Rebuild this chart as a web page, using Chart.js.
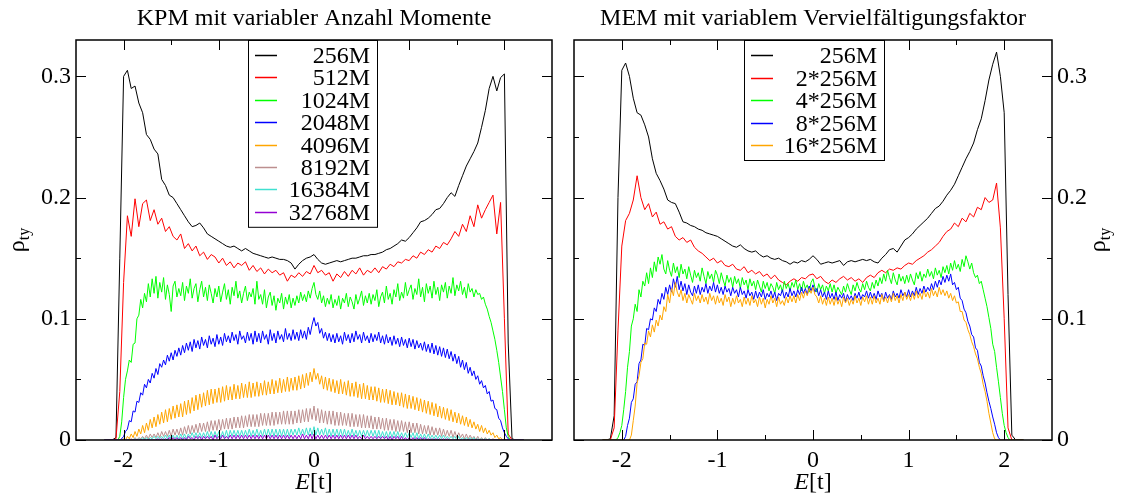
<!DOCTYPE html>
<html>
<head>
    <title>KPM / MEM Zustandsdichte</title>
    <script src="https://cdn.jsdelivr.net/npm/chart.js"></script>
    <style>
        body { margin: 0; background: #fff; }
        #wrap { position: relative; width: 1123px; height: 493px; }
        .panel { position: absolute; top: 0; }
    </style>
</head>
<body>
<div id="wrap">
    <div class="panel" style="left:0"><canvas id="kpmChart" width="560" height="493"></canvas></div>
    <div class="panel" style="left:560px"><canvas id="memChart" width="563" height="493"></canvas></div>
</div>

<script>
    // energy grid E[t] (coarse), used by the smoother curves
    const energies = [
        -2.2,-2.16,-2.12,-2.08,-2.04,-2,-1.96,-1.92,-1.88,-1.84,
        -1.8,-1.76,-1.72,-1.68,-1.64,-1.6,-1.56,-1.52,-1.48,-1.44,
        -1.4,-1.36,-1.32,-1.28,-1.24,-1.2,-1.16,-1.12,-1.08,-1.04,
        -1,-0.96,-0.92,-0.88,-0.84,-0.8,-0.76,-0.72,-0.68,-0.64,
        -0.6,-0.56,-0.52,-0.48,-0.44,-0.4,-0.36,-0.32,-0.28,-0.24,
        -0.2,-0.16,-0.12,-0.08,-0.04,0,0.04,0.08,0.12,0.16,
        0.2,0.24,0.28,0.32,0.36,0.4,0.44,0.48,0.52,0.56,
        0.6,0.64,0.68,0.72,0.76,0.8,0.84,0.88,0.92,0.96,
        1,1.04,1.08,1.12,1.16,1.2,1.24,1.28,1.32,1.36,
        1.4,1.44,1.48,1.52,1.56,1.6,1.64,1.68,1.72,1.76,
        1.8,1.84,1.88,1.92,1.96,2,2.04,2.08,2.12,2.16,2.2
    ];
    // fine grid for the noisy curves
    const energiesFine = [
        -2.2,-2.18,-2.16,-2.14,-2.12,-2.1,-2.08,-2.06,-2.04,-2.02,-2,-1.98,-1.96,-1.94,-1.92,-1.9,-1.88,-1.86,-1.84,-1.82,
        -1.8,-1.78,-1.76,-1.74,-1.72,-1.7,-1.68,-1.66,-1.64,-1.62,-1.6,-1.58,-1.56,-1.54,-1.52,-1.5,-1.48,-1.46,-1.44,-1.42,
        -1.4,-1.38,-1.36,-1.34,-1.32,-1.3,-1.28,-1.26,-1.24,-1.22,-1.2,-1.18,-1.16,-1.14,-1.12,-1.1,-1.08,-1.06,-1.04,-1.02,
        -1,-0.98,-0.96,-0.94,-0.92,-0.9,-0.88,-0.86,-0.84,-0.82,-0.8,-0.78,-0.76,-0.74,-0.72,-0.7,-0.68,-0.66,-0.64,-0.62,
        -0.6,-0.58,-0.56,-0.54,-0.52,-0.5,-0.48,-0.46,-0.44,-0.42,-0.4,-0.38,-0.36,-0.34,-0.32,-0.3,-0.28,-0.26,-0.24,-0.22,
        -0.2,-0.18,-0.16,-0.14,-0.12,-0.1,-0.08,-0.06,-0.04,-0.02,0,0.02,0.04,0.06,0.08,0.1,0.12,0.14,0.16,0.18,
        0.2,0.22,0.24,0.26,0.28,0.3,0.32,0.34,0.36,0.38,0.4,0.42,0.44,0.46,0.48,0.5,0.52,0.54,0.56,0.58,
        0.6,0.62,0.64,0.66,0.68,0.7,0.72,0.74,0.76,0.78,0.8,0.82,0.84,0.86,0.88,0.9,0.92,0.94,0.96,0.98,
        1,1.02,1.04,1.06,1.08,1.1,1.12,1.14,1.16,1.18,1.2,1.22,1.24,1.26,1.28,1.3,1.32,1.34,1.36,1.38,
        1.4,1.42,1.44,1.46,1.48,1.5,1.52,1.54,1.56,1.58,1.6,1.62,1.64,1.66,1.68,1.7,1.72,1.74,1.76,1.78,
        1.8,1.82,1.84,1.86,1.88,1.9,1.92,1.94,1.96,1.98,2,2.02,2.04,2.06,2.08,2.1,2.12,2.14,2.16,2.18,2.2
    ];

    // ---- KPM, variable Anzahl Momente ----
    const kpmLabels = ['256M', '512M', '1024M', '2048M', '4096M', '8192M', '16384M', '32768M'];

    // coarse grid
    const kpm256 = [
        0,0,0,0.002,0.15,0.3,0.305,0.29,0.292,0.278,
        0.27,0.252,0.248,0.24,0.236,0.215,0.21,0.202,0.2,0.195,
        0.19,0.185,0.18,0.176,0.177,0.179,0.175,0.17,0.168,0.166,
        0.164,0.162,0.16,0.159,0.16,0.158,0.156,0.158,0.156,0.154,
        0.153,0.152,0.151,0.15,0.151,0.15,0.149,0.149,0.148,0.146,
        0.141,0.145,0.148,0.15,0.151,0.153,0.149,0.146,0.145,0.146,
        0.147,0.148,0.147,0.148,0.149,0.15,0.15,0.151,0.152,0.152,
        0.153,0.153,0.154,0.155,0.157,0.158,0.16,0.162,0.165,0.164,
        0.167,0.171,0.175,0.18,0.181,0.183,0.186,0.19,0.191,0.195,
        0.2,0.204,0.201,0.21,0.218,0.226,0.232,0.238,0.245,0.258,
        0.272,0.29,0.3,0.288,0.299,0.302,0.08,0.001,0,0,0
    ];
    const kpm512 = [
        0,0,0,0.001,0.04,0.13,0.185,0.168,0.199,0.176,
        0.195,0.198,0.181,0.19,0.178,0.183,0.172,0.176,0.168,0.165,
        0.17,0.158,0.162,0.156,0.16,0.152,0.155,0.149,0.153,0.151,
        0.146,0.15,0.144,0.147,0.142,0.146,0.144,0.147,0.14,0.144,
        0.139,0.142,0.137,0.141,0.138,0.14,0.136,0.138,0.131,0.136,
        0.134,0.138,0.135,0.139,0.137,0.144,0.138,0.14,0.136,0.138,
        0.131,0.137,0.134,0.139,0.135,0.14,0.137,0.142,0.136,0.14,
        0.138,0.142,0.138,0.143,0.141,0.145,0.143,0.147,0.146,0.149,
        0.148,0.152,0.15,0.155,0.153,0.157,0.155,0.16,0.158,0.163,
        0.161,0.166,0.172,0.168,0.178,0.172,0.185,0.176,0.194,0.183,
        0.19,0.196,0.202,0.17,0.196,0.1,0.005,0,0,0,0
    ];
    // fine grid from here on
    const kpm1024 = [
        0,0,0,0,0,0,0,0,0.003,0.015,0.035,0.05,0.057,0.066,0.064,0.079,0.08,0.1,0.103,0.116,
        0.109,0.121,0.114,0.129,0.118,0.133,0.121,0.135,0.117,0.13,0.122,0.134,0.116,0.128,0.12,0.106,0.127,0.131,0.118,0.125,
        0.119,0.13,0.115,0.127,0.121,0.133,0.117,0.125,0.129,0.114,0.124,0.131,0.118,0.126,0.115,0.128,0.121,0.113,0.125,0.118,
        0.127,0.114,0.122,0.129,0.116,0.124,0.112,0.126,0.119,0.131,0.117,0.123,0.113,0.121,0.127,0.115,0.122,0.118,0.125,0.112,
        0.131,0.116,0.12,0.112,0.124,0.109,0.118,0.122,0.111,0.119,0.107,0.117,0.113,0.121,0.108,0.118,0.112,0.12,0.109,0.117,
        0.111,0.119,0.113,0.122,0.115,0.12,0.114,0.123,0.117,0.125,0.13,0.12,0.116,0.123,0.113,0.119,0.11,0.117,0.112,0.12,
        0.109,0.116,0.111,0.119,0.108,0.117,0.113,0.121,0.11,0.118,0.114,0.108,0.12,0.112,0.117,0.123,0.111,0.119,0.113,0.121,
        0.112,0.12,0.115,0.124,0.11,0.118,0.122,0.113,0.127,0.116,0.121,0.112,0.124,0.118,0.129,0.115,0.122,0.117,0.13,0.119,
        0.124,0.128,0.116,0.125,0.12,0.133,0.118,0.126,0.114,0.129,0.121,0.127,0.117,0.131,0.12,0.126,0.115,0.128,0.122,0.13,
        0.117,0.127,0.121,0.134,0.119,0.128,0.123,0.131,0.12,0.126,0.117,0.129,0.122,0.125,0.118,0.124,0.12,0.121,0.116,0.118,
        0.112,0.108,0.102,0.097,0.09,0.083,0.074,0.064,0.052,0.04,0.025,0.01,0.003,0,0,0,0,0,0,0,0
    ];
    const kpm2048 = [
        0,0,0,0,0,0,0,0,0,0.001,0.003,0.007,0.009,0.016,0.015,0.024,0.023,0.032,0.031,0.039,
        0.037,0.046,0.043,0.05,0.047,0.055,0.051,0.059,0.054,0.063,0.06,0.066,0.062,0.07,0.065,0.072,0.066,0.074,0.069,0.076,
        0.07,0.078,0.072,0.08,0.074,0.081,0.073,0.083,0.076,0.082,0.075,0.085,0.078,0.083,0.076,0.086,0.079,0.084,0.077,0.087,
        0.079,0.085,0.078,0.088,0.081,0.086,0.08,0.089,0.082,0.087,0.079,0.09,0.083,0.086,0.08,0.089,0.082,0.088,0.079,0.09,
        0.081,0.088,0.08,0.09,0.083,0.087,0.079,0.091,0.082,0.088,0.08,0.09,0.083,0.087,0.081,0.092,0.083,0.088,0.082,0.091,
        0.083,0.089,0.082,0.091,0.084,0.09,0.083,0.093,0.087,0.095,0.101,0.094,0.097,0.088,0.092,0.084,0.089,0.082,0.088,0.081,
        0.087,0.08,0.088,0.081,0.086,0.079,0.089,0.082,0.087,0.08,0.088,0.081,0.09,0.083,0.087,0.08,0.089,0.082,0.086,0.08,
        0.088,0.081,0.087,0.082,0.089,0.08,0.086,0.079,0.087,0.08,0.085,0.078,0.086,0.079,0.084,0.077,0.085,0.078,0.083,0.076,
        0.084,0.077,0.083,0.075,0.082,0.076,0.08,0.074,0.081,0.073,0.079,0.072,0.08,0.071,0.078,0.07,0.077,0.069,0.076,0.068,
        0.075,0.067,0.073,0.065,0.071,0.063,0.069,0.06,0.066,0.058,0.064,0.055,0.06,0.053,0.057,0.05,0.053,0.046,0.049,0.043,
        0.045,0.038,0.04,0.032,0.033,0.026,0.025,0.018,0.016,0.01,0.006,0.003,0.001,0,0,0,0,0,0,0,0
    ];
    const kpm4096 = [
        0,0,0,0,0,0,0,0,0,0,0.001,0,0.003,0.001,0.005,0.002,0.007,0.003,0.009,0.005,
        0.012,0.006,0.014,0.008,0.017,0.01,0.019,0.011,0.021,0.013,0.023,0.014,0.025,0.015,0.026,0.017,0.028,0.018,0.029,0.019,
        0.03,0.019,0.032,0.021,0.033,0.022,0.035,0.024,0.037,0.025,0.038,0.027,0.039,0.028,0.041,0.029,0.042,0.03,0.042,0.031,
        0.043,0.031,0.044,0.032,0.045,0.033,0.044,0.033,0.046,0.034,0.045,0.034,0.047,0.035,0.046,0.035,0.048,0.035,0.047,0.036,
        0.048,0.036,0.047,0.037,0.049,0.037,0.048,0.038,0.05,0.038,0.049,0.039,0.051,0.039,0.05,0.04,0.052,0.04,0.051,0.041,
        0.052,0.041,0.053,0.042,0.054,0.043,0.055,0.045,0.056,0.048,0.059,0.05,0.055,0.046,0.053,0.042,0.052,0.041,0.051,0.04,
        0.05,0.039,0.049,0.038,0.05,0.038,0.048,0.037,0.049,0.036,0.047,0.036,0.048,0.035,0.046,0.034,0.047,0.034,0.045,0.033,
        0.044,0.033,0.044,0.032,0.043,0.031,0.042,0.031,0.042,0.03,0.041,0.029,0.04,0.029,0.039,0.028,0.039,0.027,0.038,0.026,
        0.037,0.026,0.036,0.025,0.035,0.024,0.034,0.023,0.033,0.022,0.032,0.021,0.031,0.02,0.03,0.019,0.028,0.018,0.027,0.017,
        0.026,0.016,0.025,0.015,0.023,0.014,0.022,0.013,0.02,0.012,0.019,0.011,0.017,0.01,0.015,0.009,0.013,0.007,0.012,0.006,
        0.01,0.005,0.008,0.004,0.006,0.002,0.004,0.001,0.002,0,0.001,0,0,0,0,0,0,0,0,0,0
    ];
    const kpm8192 = [
        0,0,0,0,0,0,0,0,0,0,0,0,0,0,0.001,0,0.002,0,0.002,0.001,
        0.003,0.001,0.004,0.001,0.005,0.002,0.005,0.002,0.006,0.002,0.007,0.003,0.007,0.003,0.008,0.003,0.009,0.004,0.009,0.004,
        0.01,0.004,0.011,0.005,0.012,0.005,0.012,0.006,0.013,0.006,0.014,0.007,0.014,0.007,0.015,0.007,0.016,0.008,0.016,0.008,
        0.017,0.008,0.017,0.009,0.018,0.009,0.018,0.009,0.019,0.01,0.019,0.01,0.02,0.01,0.02,0.011,0.021,0.011,0.021,0.011,
        0.021,0.011,0.022,0.012,0.022,0.012,0.022,0.012,0.023,0.012,0.023,0.013,0.023,0.013,0.024,0.013,0.024,0.013,0.024,0.013,
        0.024,0.014,0.025,0.014,0.025,0.015,0.026,0.015,0.026,0.017,0.028,0.016,0.026,0.014,0.025,0.014,0.024,0.013,0.024,0.013,
        0.024,0.012,0.023,0.012,0.023,0.012,0.022,0.012,0.022,0.011,0.022,0.011,0.021,0.011,0.021,0.01,0.021,0.01,0.02,0.01,
        0.02,0.009,0.019,0.009,0.019,0.009,0.018,0.008,0.018,0.008,0.017,0.008,0.017,0.007,0.016,0.007,0.016,0.007,0.015,0.006,
        0.015,0.006,0.014,0.006,0.014,0.005,0.013,0.005,0.012,0.005,0.012,0.004,0.011,0.004,0.01,0.004,0.01,0.003,0.009,0.003,
        0.008,0.003,0.008,0.002,0.007,0.002,0.006,0.002,0.005,0.001,0.005,0.001,0.004,0.001,0.003,0,0.003,0,0.002,0,
        0.002,0,0.001,0,0.001,0,0,0,0,0,0,0,0,0,0,0,0,0,0,0,0
    ];
    const kpm16384 = [
        0,0,0,0,0,0,0,0,0,0,0,0,0,0,0,0,0.001,0,0.001,0,
        0.002,0,0.002,0,0.002,0.001,0.003,0.001,0.003,0.001,0.003,0.001,0.004,0.001,0.004,0.001,0.004,0.001,0.004,0.001,
        0.005,0.001,0.005,0.001,0.005,0.002,0.006,0.002,0.006,0.002,0.006,0.002,0.006,0.002,0.007,0.002,0.007,0.002,0.007,0.002,
        0.007,0.002,0.007,0.002,0.008,0.002,0.008,0.003,0.008,0.003,0.008,0.003,0.008,0.003,0.008,0.003,0.009,0.003,0.008,0.003,
        0.009,0.003,0.008,0.003,0.009,0.003,0.009,0.003,0.009,0.003,0.009,0.003,0.009,0.003,0.009,0.003,0.009,0.003,0.009,0.004,
        0.009,0.004,0.01,0.004,0.009,0.004,0.01,0.004,0.01,0.004,0.011,0.004,0.01,0.004,0.009,0.004,0.01,0.003,0.009,0.003,
        0.009,0.003,0.009,0.003,0.009,0.003,0.009,0.003,0.008,0.003,0.009,0.003,0.008,0.003,0.008,0.003,0.008,0.003,0.008,0.003,
        0.008,0.003,0.008,0.002,0.008,0.002,0.007,0.002,0.007,0.002,0.007,0.002,0.007,0.002,0.007,0.002,0.006,0.002,0.006,0.002,
        0.006,0.002,0.006,0.001,0.006,0.001,0.005,0.001,0.005,0.001,0.005,0.001,0.004,0.001,0.004,0.001,0.004,0.001,0.004,0.001,
        0.003,0.001,0.003,0.001,0.003,0,0.003,0,0.002,0,0.002,0,0.002,0,0.002,0,0.001,0,0.001,0,
        0.001,0,0.001,0,0,0,0,0,0,0,0,0,0,0,0,0,0,0,0,0,0
    ];
    const kpm32768 = [
        0,0,0,0,0,0,0,0,0,0,0,0,0,0,0,0,0,0,0,0,
        0,0,0,0,0,0,0,0,0.001,0,0.001,0,0.001,0,0.002,0,0.002,0,0.002,0,
        0.002,0,0.002,0,0.003,0.001,0.002,0,0.003,0.001,0.003,0,0.003,0.001,0.003,0.001,0.003,0,0.004,0.001,
        0.003,0.001,0.004,0.001,0.003,0.001,0.004,0.001,0.004,0.001,0.004,0.001,0.004,0.001,0.004,0.001,0.004,0.001,0.004,0.001,
        0.004,0.001,0.004,0.001,0.004,0.001,0.004,0.001,0.004,0.001,0.004,0.001,0.004,0.001,0.004,0.001,0.004,0.001,0.004,0.001,
        0.004,0.001,0.004,0.001,0.005,0.001,0.004,0.001,0.005,0.001,0.005,0.001,0.004,0.001,0.004,0.001,0.004,0.001,0.004,0.001,
        0.004,0.001,0.004,0.001,0.004,0.001,0.004,0.001,0.004,0.001,0.004,0.001,0.004,0.001,0.003,0.001,0.004,0.001,0.003,0.001,
        0.003,0.001,0.003,0.001,0.003,0.001,0.003,0.001,0.003,0,0.003,0,0.003,0.001,0.003,0,0.003,0,0.002,0,
        0.002,0,0.002,0,0.002,0,0.002,0,0.002,0,0.001,0,0.001,0,0.001,0,0.001,0,0.001,0,
        0.001,0,0,0,0,0,0,0,0,0,0,0,0,0,0,0,0,0,0,0,
        0,0,0,0,0,0,0,0,0,0,0,0,0,0,0,0,0,0,0,0,0
    ];

    // ---- MEM, variabler Vervielfaeltigungsfaktor ----
    const memLabels = ['256M', '2*256M', '4*256M', '8*256M', '16*256M'];

    // coarse grid
    const mem1 = [
        0,0,0.001,0.02,0.2,0.305,0.311,0.3,0.282,0.27,
        0.268,0.26,0.25,0.232,0.22,0.214,0.207,0.198,0.196,0.195,
        0.188,0.18,0.179,0.177,0.176,0.174,0.173,0.171,0.17,0.169,
        0.168,0.166,0.164,0.162,0.16,0.159,0.161,0.158,0.156,0.155,
        0.156,0.153,0.151,0.152,0.15,0.149,0.15,0.148,0.147,0.145,
        0.147,0.146,0.148,0.147,0.149,0.152,0.149,0.145,0.146,0.147,
        0.146,0.147,0.148,0.144,0.147,0.148,0.147,0.148,0.149,0.148,
        0.149,0.147,0.146,0.15,0.153,0.157,0.158,0.155,0.16,0.165,
        0.167,0.17,0.174,0.177,0.18,0.183,0.187,0.191,0.193,0.197,
        0.202,0.206,0.211,0.218,0.225,0.232,0.238,0.245,0.256,0.265,
        0.28,0.297,0.31,0.32,0.3,0.27,0.12,0.004,0,0,0
    ];
    const mem2 = [
        0,0,0,0.01,0.09,0.16,0.181,0.187,0.198,0.218,
        0.2,0.19,0.195,0.184,0.188,0.178,0.18,0.174,0.176,0.168,
        0.165,0.167,0.163,0.165,0.159,0.156,0.154,0.151,0.148,0.15,
        0.146,0.148,0.144,0.143,0.145,0.141,0.14,0.143,0.138,0.14,
        0.137,0.139,0.135,0.137,0.133,0.136,0.132,0.13,0.128,0.131,
        0.133,0.131,0.134,0.133,0.136,0.137,0.133,0.135,0.131,0.129,
        0.132,0.13,0.133,0.135,0.132,0.134,0.131,0.133,0.13,0.134,
        0.136,0.134,0.138,0.14,0.138,0.141,0.14,0.142,0.141,0.144,
        0.146,0.145,0.148,0.15,0.152,0.155,0.157,0.16,0.163,0.168,
        0.172,0.174,0.179,0.176,0.183,0.18,0.187,0.184,0.192,0.19,
        0.2,0.196,0.198,0.212,0.175,0.1,0.01,0,0,0,0
    ];
    // fine grid
    const mem4 = [
        0,0,0,0,0,0,0,0,0.002,0.006,0.012,0.025,0.04,0.06,0.073,0.094,0.1,0.112,0.106,0.124,
        0.118,0.131,0.127,0.138,0.129,0.142,0.134,0.147,0.139,0.151,0.145,0.153,0.141,0.137,0.148,0.14,0.135,0.146,0.138,0.143,
        0.134,0.145,0.137,0.141,0.133,0.143,0.136,0.13,0.14,0.134,0.138,0.131,0.142,0.135,0.129,0.139,0.133,0.137,0.13,0.14,
        0.136,0.129,0.138,0.132,0.127,0.136,0.13,0.134,0.126,0.135,0.129,0.133,0.125,0.134,0.128,0.132,0.124,0.133,0.127,0.131,
        0.124,0.132,0.127,0.122,0.131,0.125,0.13,0.123,0.129,0.126,0.121,0.13,0.124,0.128,0.122,0.131,0.125,0.129,0.123,0.13,
        0.126,0.132,0.124,0.129,0.123,0.131,0.125,0.128,0.122,0.13,0.133,0.126,0.122,0.129,0.124,0.128,0.121,0.127,0.123,0.129,
        0.122,0.128,0.121,0.126,0.123,0.12,0.127,0.122,0.129,0.124,0.12,0.128,0.123,0.13,0.125,0.122,0.129,0.124,0.131,0.126,
        0.123,0.13,0.125,0.132,0.127,0.134,0.129,0.137,0.131,0.14,0.134,0.129,0.138,0.132,0.128,0.137,0.131,0.135,0.129,0.136,
        0.13,0.137,0.132,0.128,0.138,0.133,0.139,0.131,0.137,0.134,0.141,0.135,0.139,0.133,0.142,0.136,0.14,0.134,0.143,0.138,
        0.144,0.137,0.146,0.14,0.148,0.141,0.145,0.139,0.149,0.143,0.152,0.147,0.141,0.146,0.138,0.134,0.136,0.129,0.131,0.124,
        0.117,0.11,0.101,0.092,0.079,0.073,0.06,0.048,0.035,0.022,0.012,0.006,0.002,0,0,0,0,0,0,0,0
    ];
    const mem8 = [
        0,0,0,0,0,0,0,0,0,0,0,0,0.003,0.012,0.018,0.031,0.034,0.046,0.048,0.063,
        0.066,0.079,0.078,0.092,0.091,0.1,0.099,0.109,0.106,0.116,0.112,0.121,0.116,0.126,0.12,0.128,0.122,0.133,0.126,0.135,
        0.124,0.131,0.123,0.129,0.12,0.128,0.122,0.119,0.127,0.121,0.128,0.12,0.126,0.122,0.129,0.121,0.127,0.123,0.13,0.122,
        0.128,0.121,0.126,0.12,0.127,0.122,0.125,0.119,0.126,0.121,0.124,0.118,0.126,0.12,0.123,0.117,0.124,0.119,0.122,0.116,
        0.123,0.117,0.122,0.118,0.124,0.116,0.121,0.118,0.123,0.117,0.122,0.115,0.121,0.119,0.124,0.117,0.122,0.118,0.125,0.119,
        0.123,0.118,0.124,0.12,0.126,0.121,0.125,0.12,0.127,0.123,0.128,0.122,0.125,0.119,0.124,0.118,0.122,0.116,0.123,0.117,
        0.121,0.116,0.122,0.115,0.12,0.117,0.121,0.114,0.12,0.116,0.119,0.115,0.121,0.117,0.122,0.116,0.12,0.118,0.123,0.117,
        0.122,0.117,0.121,0.116,0.123,0.118,0.121,0.115,0.122,0.117,0.12,0.116,0.123,0.118,0.121,0.117,0.124,0.119,0.122,0.118,
        0.124,0.118,0.123,0.119,0.126,0.12,0.125,0.121,0.127,0.122,0.126,0.123,0.129,0.124,0.131,0.126,0.132,0.128,0.135,0.13,
        0.136,0.131,0.137,0.128,0.13,0.124,0.126,0.117,0.115,0.108,0.105,0.098,0.094,0.087,0.085,0.076,0.074,0.064,0.061,0.053,
        0.047,0.039,0.032,0.026,0.019,0.013,0.006,0.002,0,0,0,0,0,0,0,0,0,0,0,0,0
    ];
    const mem16 = [
        0,0,0,0,0,0,0,0,0,0,0,0,0,0,0,0.004,0.016,0.028,0.047,0.053,
        0.064,0.067,0.08,0.079,0.09,0.085,0.095,0.089,0.099,0.094,0.103,0.099,0.11,0.106,0.12,0.113,0.125,0.119,0.13,0.122,
        0.118,0.124,0.115,0.121,0.113,0.12,0.116,0.112,0.121,0.115,0.119,0.113,0.12,0.114,0.118,0.112,0.121,0.115,0.119,0.112,
        0.119,0.113,0.117,0.111,0.12,0.114,0.118,0.11,0.117,0.112,0.119,0.113,0.116,0.11,0.118,0.112,0.117,0.111,0.119,0.113,
        0.116,0.11,0.118,0.112,0.117,0.109,0.116,0.112,0.119,0.113,0.117,0.11,0.118,0.112,0.115,0.111,0.118,0.113,0.119,0.114,
        0.119,0.113,0.12,0.115,0.122,0.117,0.123,0.119,0.125,0.121,0.126,0.12,0.118,0.113,0.119,0.112,0.117,0.111,0.118,0.112,
        0.117,0.111,0.118,0.112,0.116,0.11,0.118,0.113,0.117,0.111,0.116,0.112,0.119,0.113,0.117,0.111,0.118,0.114,0.119,0.112,
        0.118,0.112,0.119,0.113,0.117,0.112,0.12,0.114,0.118,0.113,0.119,0.114,0.121,0.115,0.119,0.113,0.12,0.115,0.122,0.116,
        0.12,0.115,0.121,0.116,0.123,0.117,0.121,0.116,0.124,0.118,0.122,0.117,0.125,0.119,0.123,0.118,0.126,0.12,0.124,0.119,
        0.123,0.117,0.121,0.115,0.119,0.113,0.114,0.106,0.106,0.099,0.097,0.091,0.087,0.081,0.077,0.071,0.067,0.06,0.055,0.046,
        0.04,0.032,0.022,0.014,0.006,0.001,0,0,0,0,0,0,0,0,0,0,0,0,0,0,0
    ];

    // axis ticks
    const xMajor = [-2, -1, 0, 1, 2];
    const xMinor = [-1.5, -0.5, 0.5, 1.5];
    const yMajor = [0, 0.1, 0.2, 0.3];
    const yMinor = [0.05, 0.15, 0.25];

    // xmgrace colours
    const setColors = ['#000000', '#ff0000', '#00ff00', '#0000ff', '#ffa500', '#bc8f8f', '#40e0d0', '#9400d3'];

    const serif = "'Liberation Serif', 'DejaVu Serif', serif";
    Chart.defaults.font.family = serif;
    Chart.defaults.font.size = 24;
    Chart.defaults.color = '#000';

    function buildDatasets(labels, series, grids) {
        return series.map((vals, i) => ({
            label: labels[i],
            data: grids[i].map((e, k) => ({x: e, y: vals[k]})),
            borderColor: setColors[i],
            backgroundColor: setColors[i],
            borderWidth: 1,
            pointRadius: 0,
            tension: 0,
            order: -i   // later sets on top, like grace
        }));
    }

    // frame + inward ticks on all four sides
    const frameTicks = {
        id: 'frameTicks',
        afterDatasetsDraw(chart) {
            const ctx = chart.ctx, a = chart.chartArea;
            const xs = chart.scales.x, ys = chart.scales.y;
            ctx.save();
            ctx.strokeStyle = '#000';
            ctx.lineWidth = 1;
            ctx.beginPath();
            const xt = (v, len) => {
                const p = Math.round(xs.getPixelForValue(v)) + 0.5;
                ctx.moveTo(p, a.bottom); ctx.lineTo(p, a.bottom - len);
                ctx.moveTo(p, a.top); ctx.lineTo(p, a.top + len);
            };
            const yt = (v, len) => {
                const p = Math.round(ys.getPixelForValue(v)) + 0.5;
                ctx.moveTo(a.left, p); ctx.lineTo(a.left + len, p);
                ctx.moveTo(a.right, p); ctx.lineTo(a.right - len, p);
            };
            xMajor.forEach(v => xt(v, 10));
            xMinor.forEach(v => xt(v, 5));
            yMajor.forEach(v => yt(v, 10));
            yMinor.forEach(v => yt(v, 5));
            ctx.stroke();
            ctx.lineWidth = 1.5;
            ctx.strokeRect(a.left, a.top, a.right - a.left, a.bottom - a.top);
            ctx.restore();
        }
    };

    // boxed legend inside the plot
    const boxLegend = {
        id: 'boxLegend',
        afterDraw(chart, args, o) {
            const ctx = chart.ctx;
            const rows = chart.data.datasets.length;
            const h = o.firstRow * 2 + (rows - 1) * o.rowHeight;
            ctx.save();
            ctx.fillStyle = '#fff';
            ctx.fillRect(o.left, o.top, o.width, h);
            ctx.strokeStyle = '#000';
            ctx.lineWidth = 1;
            ctx.strokeRect(o.left + 0.5, o.top + 0.5, o.width, h);
            ctx.font = '24px ' + serif;
            ctx.textAlign = 'right';
            ctx.textBaseline = 'middle';
            chart.data.datasets.forEach((ds, i) => {
                const cy = Math.round(o.top + o.firstRow + i * o.rowHeight) + 0.5;
                ctx.strokeStyle = ds.borderColor;
                ctx.lineWidth = 1.5;
                ctx.beginPath();
                ctx.moveTo(o.left + 7, cy);
                ctx.lineTo(o.left + 29, cy);
                ctx.stroke();
                ctx.fillStyle = '#000';
                ctx.fillText(ds.label, o.left + o.width - 7, cy + 1);
            });
            ctx.restore();
        }
    };

    // E[t] and rho_ty
    const axisTitles = {
        id: 'axisTitles',
        afterDraw(chart, args, o) {
            const ctx = chart.ctx, a = chart.chartArea;
            ctx.save();
            ctx.fillStyle = '#000';
            ctx.textBaseline = 'alphabetic';
            ctx.textAlign = 'left';
            const cx = (a.left + a.right) / 2;
            ctx.font = 'italic 24px ' + serif;
            const wE = ctx.measureText('E').width;
            ctx.font = '24px ' + serif;
            const wT = ctx.measureText('[t]').width;
            const x0 = cx - (wE + wT) / 2;
            ctx.font = 'italic 24px ' + serif;
            ctx.fillText('E', x0, o.xBaseline);
            ctx.font = '24px ' + serif;
            ctx.fillText('[t]', x0 + wE, o.xBaseline);

            ctx.translate(o.yBaseline, (a.top + a.bottom) / 2);
            ctx.rotate(-Math.PI / 2);
            ctx.font = '24px ' + serif;
            const wR = ctx.measureText('\u03c1').width;
            ctx.font = '16px ' + serif;
            const wS = ctx.measureText('ty').width;
            const s0 = -(wR + wS) / 2;
            ctx.font = '24px ' + serif;
            ctx.fillText('\u03c1', s0, 0);
            ctx.font = '16px ' + serif;
            ctx.fillText('ty', s0 + wR, 5);
            ctx.restore();
        }
    };

    function makeChart(id, title, datasets, side) {
        const left = side === 'left';
        return new Chart(document.getElementById(id), {
            type: 'line',
            data: {datasets: datasets},
            plugins: [frameTicks, boxLegend, axisTitles],
            options: {
                responsive: false,
                animation: false,
                devicePixelRatio: 1,
                layout: {padding: left ? {left: 0, right: 8, top: 0, bottom: 0} : {left: 14, right: 0, top: 0, bottom: 0}},
                plugins: {
                    legend: {display: false},
                    tooltip: {enabled: false},
                    title: {
                        display: true,
                        text: title,
                        fullSize: false,
                        font: {size: 24, weight: 'normal', family: serif},
                        padding: {top: 4, bottom: 7.2}
                    },
                    boxLegend: left
                        ? {left: 248, top: 40, width: 129, firstRow: 15, rowHeight: 22.4}
                        : {left: 184, top: 40, width: 140, firstRow: 15, rowHeight: 22.5},
                    axisTitles: left
                        ? {xBaseline: 489, yBaseline: 24}
                        : {xBaseline: 489, yBaseline: 545}
                },
                scales: {
                    x: {
                        type: 'linear',
                        min: -2.5,
                        max: 2.5,
                        afterBuildTicks: s => { s.ticks = xMajor.map(v => ({value: v})); },
                        afterFit: s => { s.height = 53; },
                        ticks: {padding: 6, maxRotation: 0, callback: v => String(v)},
                        grid: {display: false, drawTicks: false},
                        border: {display: false}
                    },
                    y: {
                        type: 'linear',
                        position: left ? 'left' : 'right',
                        min: 0,
                        max: 0.33,
                        afterBuildTicks: s => { s.ticks = yMajor.map(v => ({value: v})); },
                        afterFit: s => { s.width = left ? 76 : 71; },
                        ticks: {padding: 5, callback: v => String(v)},
                        grid: {display: false, drawTicks: false},
                        border: {display: false}
                    }
                }
            }
        });
    }

    const coarse = energies, fine = energiesFine;
    makeChart('kpmChart', 'KPM mit variabler Anzahl Momente',
        buildDatasets(kpmLabels,
            [kpm256, kpm512, kpm1024, kpm2048, kpm4096, kpm8192, kpm16384, kpm32768],
            [coarse, coarse, fine, fine, fine, fine, fine, fine]), 'left');
    makeChart('memChart', 'MEM mit variablem Vervielf\u00e4ltigungsfaktor',
        buildDatasets(memLabels, [mem1, mem2, mem4, mem8, mem16],
            [coarse, coarse, fine, fine, fine]), 'right');
</script>
</body>
</html>
